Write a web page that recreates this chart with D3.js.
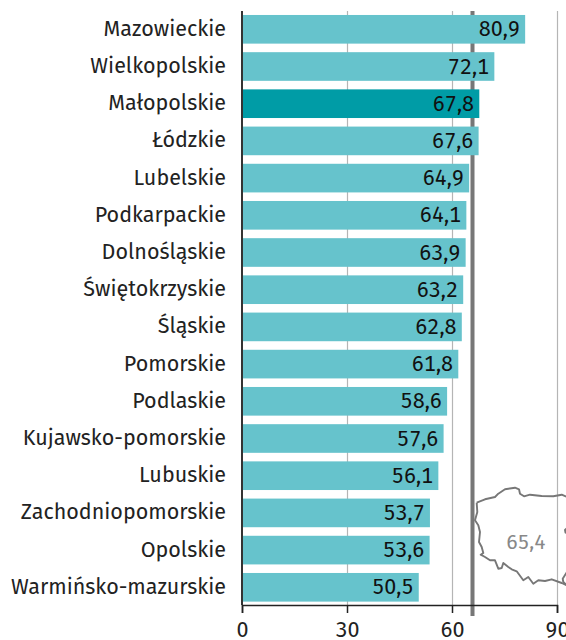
<!DOCTYPE html>
<html><head><meta charset="utf-8">
<script src="https://cdn.jsdelivr.net/npm/d3@7"></script>
<style>html,body{margin:0;padding:0;background:#fff}svg{display:block}text{font-family:"Fira Sans","Noto Sans",sans-serif;font-variant-numeric:tabular-nums}</style>
</head><body><svg id="c" width="566" height="640"></svg>
<script>
const regions=["Mazowieckie","Wielkopolskie","Małopolskie","Łódzkie","Lubelskie","Podkarpackie","Dolnośląskie","Świętokrzyskie","Śląskie","Pomorskie","Podlaskie","Kujawsko-pomorskie","Lubuskie","Zachodniopomorskie","Opolskie","Warmińsko-mazurskie"];
const values=[80.9,72.1,67.8,67.6,64.9,64.1,63.9,63.2,62.8,61.8,58.6,57.6,56.1,53.7,53.6,50.5];
const highlighted="Małopolskie";
const average=65.4;
const ticks=[0,30,60,90];
const mapNorth=[[476.7,502.7],[485,499.3],[495,497],[498.3,493.7],[505,489.3],[515,487.7],[519,489.3],[520,493.7],[524,496.3],[530,494.7],[541.7,496],[553.3,496.3],[561.7,494.7],[567,497]];
const mapSouthWest=[[476.7,502.7],[477.3,512],[475,520.3],[478.3,525.3],[480,532],[479,542],[481.7,547],[483.3,553],[480.7,554.7],[485,557],[490,560.3],[495,560.3],[498.3,568.7],[501.7,568],[503.3,563],[508.3,567],[511.7,569.3],[516.7,571.3],[523.3,580.3],[528.3,577],[533.3,583.7],[538.3,580.3],[545,581],[551.7,579.3],[561.7,583],[567,585.3]];
const mapEastUpper=[[567,528],[565,530],[565.5,532.5],[567,533]];
const mapEastLower=[[567,572],[562.7,578.7],[563.3,582],[567,585.3]];
const svg=d3.select("#c");
const x=d3.scaleLinear().domain([0,90]).range([242,557]);
const y=d3.scaleBand().domain(regions).range([10.7,605.9]).paddingInner(0.23).paddingOuter(0.115);
const fmt=v=>v.toFixed(1).replace(".",",");
svg.append("g").selectAll("line").data(ticks.slice(1)).join("line").attr("x1",d=>x(d)+.5).attr("x2",d=>x(d)+.5).attr("y1",11).attr("y2",605).attr("stroke","#b5b5b5").attr("stroke-width",1.2);
svg.append("line").attr("x1",x(average)+1.6).attr("x2",x(average)+1.6).attr("y1",11).attr("y2",616).attr("stroke","#777").attr("stroke-width",4);
svg.append("g").selectAll("rect").data(regions).join("rect").attr("x",x(0)).attr("y",d=>y(d)).attr("width",(d,i)=>x(values[i])-x(0)).attr("height",y.bandwidth()).attr("fill",d=>d===highlighted?"#009ca6":"#66c3cc");
svg.append("g").selectAll("text").data(regions).join("text").attr("x",(d,i)=>x(values[i])-5.2).attr("y",d=>y(d)+y.bandwidth()/2+7).attr("text-anchor","end").attr("font-size",21.5).attr("fill","#111").text((d,i)=>fmt(values[i]));
svg.append("g").selectAll("text").data(regions).join("text").attr("x",226).attr("y",d=>y(d)+y.bandwidth()/2+6.5).attr("text-anchor","end").attr("font-size",21.5).attr("fill","#222").text(d=>d);
svg.append("line").attr("x1",242).attr("x2",242).attr("y1",11).attr("y2",605).attr("stroke","#333").attr("stroke-width",2);
const ax=svg.append("g").attr("transform","translate(0,605)").call(d3.axisBottom(x).tickValues(ticks).tickSize(8).tickPadding(9));
ax.select(".domain").attr("stroke","#222").attr("stroke-width",1.5);
ax.selectAll("line").attr("stroke","#222").attr("stroke-width",1.5);
ax.selectAll("text").attr("font-size",21.5).attr("fill","#222").attr("font-family",'"Fira Sans","Noto Sans",sans-serif');
const ln=d3.line();
svg.append("g").selectAll("path").data([mapNorth,mapSouthWest,mapEastUpper,mapEastLower]).join("path").attr("d",ln).attr("fill","none").attr("stroke","#777").attr("stroke-width",1.9).attr("stroke-linejoin","round");
svg.append("text").attr("x",526).attr("y",548.5).attr("text-anchor","middle").attr("font-size",20.5).attr("fill","#888").text("65,4");
</script></body></html>
